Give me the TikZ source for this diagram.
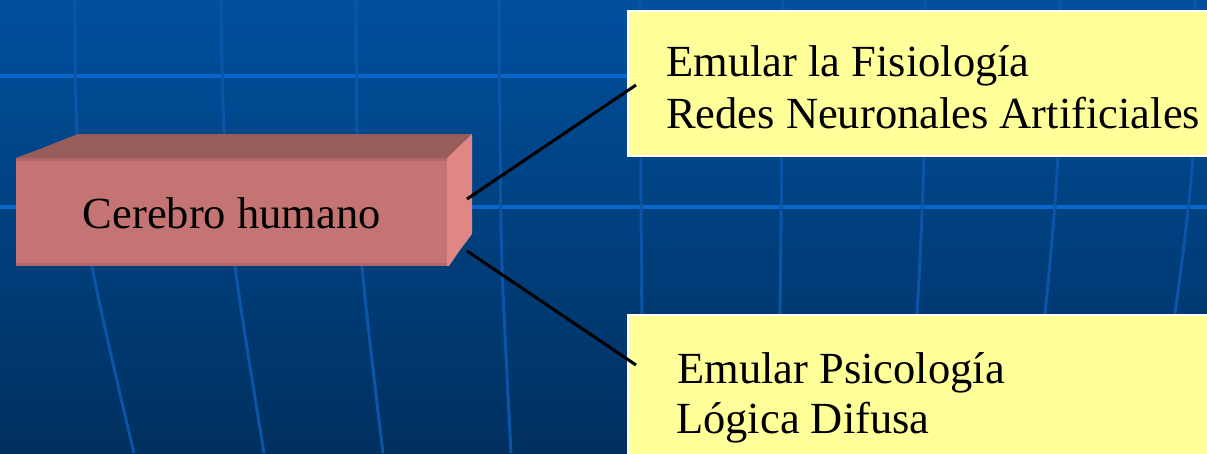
\documentclass[tikz,border=0pt]{standalone}
\usepackage{fontspec}
\setmainfont{Liberation Serif}
\definecolor{bgtop}{HTML}{00509E}
\definecolor{bgbot}{HTML}{00305F}
\definecolor{hline}{HTML}{0866CC}
\definecolor{vline}{HTML}{0A55A8}
\definecolor{frontc}{HTML}{C47573}
\definecolor{frontedge}{HTML}{B06664}
\definecolor{topc}{HTML}{985C5A}
\definecolor{sidec}{HTML}{E08684}
\definecolor{yel}{HTML}{FFFF99}
\begin{document}
\begin{tikzpicture}[x=1pt,y=-1pt,
  hgrid/.style={draw=hline, line width=4},
  vgrid/.style={draw=vline, line width=3},
  ybox/.style={fill=yel, draw=white, line width=2, rectangle, inner sep=0, anchor=north west},
  lbl/.style={inner sep=0, anchor=base west, font=\fontsize{44.5}{52}\selectfont, text=black},
  conn/.style={draw=black, line width=3}]
\useasboundingbox (0,0) rectangle (1207,453);
\shade[top color=bgtop, bottom color=bgbot] (0,0) rectangle (1207,453);
% grid
\draw[hgrid] (0,76) -- (1207,76);
\draw[hgrid] (0,207) -- (1207,207);
\draw[vgrid] plot[smooth] coordinates {(75,0) (77,130) (92,266) (134,453)};
\draw[vgrid] plot[smooth] coordinates {(221,0) (224,130) (235,266) (264,453)};
\draw[vgrid] plot[smooth] coordinates {(356,0) (357,130) (362,266) (383,453)};
\draw[vgrid] plot[smooth] coordinates {(499,0) (500,130) (502,266) (511,453)};
\draw[vgrid] plot[smooth] coordinates {(640,0) (641,200) (643,453)};
\draw[vgrid] plot[smooth] coordinates {(783,0) (781,230) (778,453)};
\draw[vgrid] plot[smooth] coordinates {(925,0) (924,155) (917,313) (905,453)};
\draw[vgrid] plot[smooth] coordinates {(1060,0) (1058,155) (1045,313) (1025,453)};
\draw[vgrid] plot[smooth] coordinates {(1195,0) (1193,155) (1175,313) (1150,453)};
% 3D box
\fill[topc] (16,158) -- (40,149) -- (60,141) -- (78,134) -- (472,134) -- (447,158) -- cycle;
\fill[sidec] (447,158) -- (472,134) -- (472,234) -- (460,250) -- (449,266) -- (447,266) -- cycle;
\node[fill=frontc, minimum width=431, minimum height=108, inner sep=0, anchor=north west] (brain) at (16,158) {};
\fill[frontedge] (brain.north west) rectangle ([yshift=-3]brain.north east);
\fill[frontedge] ([yshift=3]brain.south west) rectangle (brain.south east);
\node[inner sep=0, font=\fontsize{44.5}{52}\selectfont] (brainlbl) at ([yshift=-1]brain.center) {Cerebro humano};
% yellow boxes
\node[ybox, minimum width=600, minimum height=145] (fis) at (627,10) {};
\node[ybox, minimum width=600, minimum height=160] (psi) at (627,314) {};
\node[lbl] (fis1) at (666,76) {Emular la Fisiología};
\node[lbl] (fis2) at (666,128) {Redes Neuronales Artificiales};
\node[lbl] (psi1) at (677,383) {Emular Psicología};
\node[lbl] (psi2) at (676,433) {Lógica Difusa};
% connectors
\coordinate (b1) at (467,199);
\coordinate (b2) at (467,251);
\coordinate (f1) at (636,85);
\coordinate (p1) at (636,365);
\draw[conn] (b1) -- (f1);
\draw[conn] (b2) -- (p1);
\end{tikzpicture}
\end{document}
